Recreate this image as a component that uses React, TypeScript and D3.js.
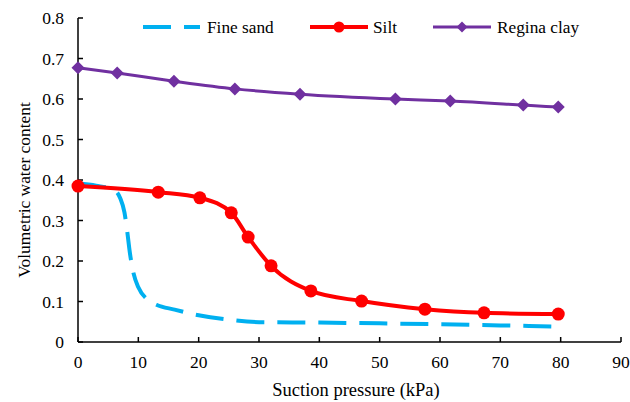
import React from "react";
import * as d3 from "d3";

const xTicks = [0, 10, 20, 30, 40, 50, 60, 70, 80, 90];
const yTicks = [0, 0.1, 0.2, 0.3, 0.4, 0.5, 0.6, 0.7, 0.8];

const fineSandX = [0, 3, 6, 7, 7.7, 8.1, 8.6, 9.2, 10, 11.5, 13, 16, 20, 25, 30, 40, 50, 60, 70, 80];
const fineSandY = [0.392, 0.386, 0.375, 0.355, 0.32, 0.28, 0.22, 0.17, 0.135, 0.105, 0.092, 0.08, 0.066, 0.055, 0.049, 0.048, 0.046, 0.044, 0.041, 0.038];

const siltX = [0, 13.3, 20.2, 25.4, 28.2, 32.0, 38.6, 47.0, 57.5, 67.3, 79.6];
const siltY = [0.385, 0.37, 0.356, 0.319, 0.259, 0.188, 0.126, 0.101, 0.081, 0.072, 0.069];

const clayX = [0, 6.5, 15.9, 26.0, 36.8, 52.6, 61.7, 73.8, 79.6];
const clayY = [0.677, 0.664, 0.644, 0.625, 0.612, 0.6, 0.595, 0.585, 0.58];

const W = 630, H = 402;
const left = 78, right = 621, top = 18, bottom = 342;
const FONT = "Liberation Serif, DejaVu Serif, serif";
const ts = (size: number): React.CSSProperties => ({ fontFamily: FONT, fontSize: size, fill: "#000" });

export default function App() {
  const x = d3.scaleLinear().domain([0, 90]).range([left, right]);
  const y = d3.scaleLinear().domain([0, 0.8]).range([bottom, top]);
  const line = d3.line<[number, number]>().x(d => x(d[0])).y(d => y(d[1])).curve(d3.curveMonotoneX);
  const sand = fineSandX.map((v, i) => [v, fineSandY[i]] as [number, number]);
  const silt = siltX.map((v, i) => [v, siltY[i]] as [number, number]);
  const clay = clayX.map((v, i) => [v, clayY[i]] as [number, number]);
  const diamond = (cx: number, cy: number, r: number) => `M${cx},${cy - r}L${cx + r},${cy}L${cx},${cy + r}L${cx - r},${cy}Z`;

  return (
    <svg width={W} height={H} style={{ position: "absolute", left: 0, top: 0, background: "#fff" }}>
      <rect width={W} height={H} fill="#fff" />
      <line x1={left} x2={left} y1={top} y2={bottom} stroke="#000" strokeWidth={1.5} />
      <line x1={left} x2={right} y1={bottom} y2={bottom} stroke="#000" strokeWidth={1.5} />
      {yTicks.map(t => (
        <g key={"y" + t}>
          <line x1={left} x2={left + 5} y1={y(t)} y2={y(t)} stroke="#000" strokeWidth={1.5} />
          <text x={64} y={y(t)} dy="0.35em" textAnchor="end" style={ts(17.5)}>{t === 0 ? "0" : t.toFixed(1)}</text>
        </g>
      ))}
      {xTicks.map(t => (
        <g key={"x" + t}>
          <line x1={x(t)} x2={x(t)} y1={bottom} y2={bottom - 5} stroke="#000" strokeWidth={1.5} />
          <text x={x(t)} y={362} dy="0.35em" textAnchor="middle" style={ts(17.5)}>{t}</text>
        </g>
      ))}
      <text x={356} y={390} dy="0.35em" textAnchor="middle" style={ts(18.5)}>Suction pressure (kPa)</text>
      <text transform={`translate(24,190) rotate(-90)`} dy="0.35em" textAnchor="middle" style={ts(17.4)}>Volumetric water content</text>

      <path d={line(sand) ?? ""} fill="none" stroke="#00B0F0" strokeWidth={4} strokeDasharray="28,13" />
      <path d={line(clay) ?? ""} fill="none" stroke="#7030A0" strokeWidth={3} />
      {clay.map((d, i) => <path key={"c" + i} d={diamond(x(d[0]), y(d[1]), 6.5)} fill="#7030A0" />)}
      <path d={line(silt) ?? ""} fill="none" stroke="#FF0000" strokeWidth={4} />
      {silt.map((d, i) => <circle key={"s" + i} cx={x(d[0])} cy={y(d[1])} r={6.5} fill="#FF0000" />)}

      <line x1={143} x2={200} y1={27} y2={27} stroke="#00B0F0" strokeWidth={4} strokeDasharray="28,13" />
      <text x={207} y={27} dy="0.35em" style={ts(17.3)}>Fine sand</text>
      <line x1={310} x2={368} y1={27} y2={27} stroke="#FF0000" strokeWidth={4} />
      <circle cx={339} cy={27} r={5.5} fill="#FF0000" />
      <text x={373} y={27} dy="0.35em" style={ts(17.3)}>Silt</text>
      <line x1={433} x2={491} y1={27} y2={27} stroke="#7030A0" strokeWidth={3} />
      <path d={diamond(462, 27, 5.5)} fill="#7030A0" />
      <text x={497} y={27} dy="0.35em" style={ts(17.3)}>Regina clay</text>
    </svg>
  );
}
